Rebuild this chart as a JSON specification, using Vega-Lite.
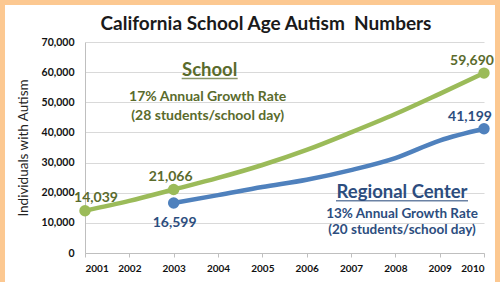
{
  "$schema": "https://vega.github.io/schema/vega-lite/v6.json",
  "width": 399,
  "height": 211,
  "autosize": {"type": "none"},
  "padding": {"left": 85, "top": 42, "right": 16, "bottom": 29},
  "background": "white",
  "config": {"font": "Lato", "view": {"stroke": null}},
  "datasets": {
    "autism": [
      {"year": 2001, "value": 14039, "series": "School"},
      {"year": 2002, "value": 17300, "series": "School"},
      {"year": 2003, "value": 21066, "series": "School"},
      {"year": 2004, "value": 24900, "series": "School"},
      {"year": 2005, "value": 29200, "series": "School"},
      {"year": 2006, "value": 34200, "series": "School"},
      {"year": 2007, "value": 40000, "series": "School"},
      {"year": 2008, "value": 46100, "series": "School"},
      {"year": 2009, "value": 52800, "series": "School"},
      {"year": 2010, "value": 59690, "series": "School"},
      {"year": 2003, "value": 16599, "series": "Regional Center"},
      {"year": 2004, "value": 19200, "series": "Regional Center"},
      {"year": 2005, "value": 21900, "series": "Regional Center"},
      {"year": 2006, "value": 24300, "series": "Regional Center"},
      {"year": 2007, "value": 27500, "series": "Regional Center"},
      {"year": 2008, "value": 31500, "series": "Regional Center"},
      {"year": 2009, "value": 37300, "series": "Regional Center"},
      {"year": 2010, "value": 41199, "series": "Regional Center"}
    ]
  },
  "data": {"name": "autism"},
  "encoding": {
    "x": {"field": "year", "type": "quantitative", "scale": {"domain": [2001, 2010], "nice": false, "zero": false},
      "axis": {"title": null, "values": [2001, 2002, 2003, 2004, 2005, 2006, 2007, 2008, 2009, 2010], "format": "d", "grid": false, "labelFont": "Lato", "labelFontSize": 10, "labelFontWeight": "bold", "labelColor": "#111", "domainColor": "#BFBFBF", "tickColor": "#BFBFBF", "tickSize": 4, "labelPadding": 6}},
    "y": {"field": "value", "type": "quantitative", "scale": {"domain": [0, 70000], "nice": false},
      "axis": {"title": "Individuals with Autism", "values": [0, 10000, 20000, 30000, 40000, 50000, 60000, 70000], "format": ",.0f", "grid": true, "gridColor": "#D9D9D9", "gridWidth": 1, "labelFont": "Lato", "labelFontSize": 10.5, "labelFontWeight": "bold", "labelColor": "#111", "domainColor": "#BFBFBF", "tickSize": 0, "labelPadding": 11, "titleFont": "Lato", "titleFontSize": 13.5, "titleFontWeight": "normal", "titleColor": "#222", "titlePadding": 11}},
    "color": {"field": "series", "type": "nominal", "scale": {"domain": ["School", "Regional Center"], "range": ["#9BBB59", "#4F81BD"]}, "legend": null}
  },
  "layer": [
    {"mark": {"type": "line", "strokeWidth": 4.5, "interpolate": "monotone"}},
    {"transform": [{"filter": "datum.year == 2001 || datum.year == 2003 || datum.year == 2010"}],
     "mark": {"type": "circle", "size": 130, "opacity": 1}},
    {"transform": [{"filter": "datum.series == 'School' && datum.year == 2001"}],
     "mark": {"type": "text", "fontSize": 14, "fontWeight": "bold", "dx": 11, "dy": -13},
     "encoding": {"text": {"field": "value", "format": ","}, "color": {"value": "#5A6B2C"}}},
    {"transform": [{"filter": "datum.series == 'School' && datum.year == 2003"}],
     "mark": {"type": "text", "fontSize": 14, "fontWeight": "bold", "dx": -3, "dy": -13},
     "encoding": {"text": {"field": "value", "format": ","}, "color": {"value": "#5A6B2C"}}},
    {"transform": [{"filter": "datum.series == 'School' && datum.year == 2010"}],
     "mark": {"type": "text", "fontSize": 14, "fontWeight": "bold", "dx": -12, "dy": -12},
     "encoding": {"text": {"field": "value", "format": ","}, "color": {"value": "#5A6B2C"}}},
    {"transform": [{"filter": "datum.series == 'Regional Center' && datum.year == 2003"}],
     "mark": {"type": "text", "fontSize": 14, "fontWeight": "bold", "dx": 1, "dy": 20},
     "encoding": {"text": {"field": "value", "format": ","}, "color": {"value": "#2C4D7E"}}},
    {"transform": [{"filter": "datum.series == 'Regional Center' && datum.year == 2010"}],
     "mark": {"type": "text", "fontSize": 14, "fontWeight": "bold", "dx": -14, "dy": -12},
     "encoding": {"text": {"field": "value", "format": ","}, "color": {"value": "#2C4D7E"}}},
    {"transform": [{"filter": "datum.series == 'School' && datum.year == 2001"}],
     "mark": {"type": "text", "fontSize": 19, "fontWeight": "bold", "baseline": "alphabetic", "align": "center", "dx": 181, "dy": -181},
     "encoding": {"text": {"value": "California School Age Autism\u00a0 Numbers"}, "color": {"value": "#1a1a1a"}}},
    {"transform": [{"filter": "datum.series == 'School' && datum.year == 2003"}],
     "mark": {"type": "text", "fontSize": 18.5, "fontWeight": "bold", "baseline": "middle", "dx": 36, "dy": -120},
     "encoding": {"text": {"value": "School"}, "color": {"value": "#5A6B2C"}}},
    {"transform": [{"filter": "datum.series == 'School' && datum.year == 2003"}],
     "mark": {"type": "tick", "orient": "horizontal", "size": 56, "thickness": 1.5, "xOffset": 36, "yOffset": -111},
     "encoding": {"color": {"value": "#5A6B2C"}}},
    {"transform": [{"filter": "datum.series == 'School' && datum.year == 2003"}],
     "mark": {"type": "text", "fontSize": 14, "fontWeight": "bold", "baseline": "middle", "dx": 34, "dy": -93},
     "encoding": {"text": {"value": "17% Annual Growth Rate"}, "color": {"value": "#5A6B2C"}}},
    {"transform": [{"filter": "datum.series == 'School' && datum.year == 2003"}],
     "mark": {"type": "text", "fontSize": 14, "fontWeight": "bold", "baseline": "middle", "dx": 34, "dy": -74},
     "encoding": {"text": {"value": "(28 students/school day)"}, "color": {"value": "#5A6B2C"}}},
    {"transform": [{"filter": "datum.series == 'Regional Center' && datum.year == 2010"}],
     "mark": {"type": "text", "fontSize": 18.5, "fontWeight": "bold", "baseline": "middle", "dx": -82, "dy": 63},
     "encoding": {"text": {"value": "Regional Center"}, "color": {"value": "#2C4D7E"}}},
    {"transform": [{"filter": "datum.series == 'Regional Center' && datum.year == 2010"}],
     "mark": {"type": "tick", "orient": "horizontal", "size": 132, "thickness": 1.5, "xOffset": -82, "yOffset": 72},
     "encoding": {"color": {"value": "#2C4D7E"}}},
    {"transform": [{"filter": "datum.series == 'Regional Center' && datum.year == 2010"}],
     "mark": {"type": "text", "fontSize": 13.5, "fontWeight": "bold", "baseline": "middle", "dx": -82, "dy": 85.5},
     "encoding": {"text": {"value": "13% Annual Growth Rate"}, "color": {"value": "#2C4D7E"}}},
    {"transform": [{"filter": "datum.series == 'Regional Center' && datum.year == 2010"}],
     "mark": {"type": "text", "fontSize": 13.5, "fontWeight": "bold", "baseline": "middle", "dx": -82, "dy": 101.5},
     "encoding": {"text": {"value": "(20 students/school day)"}, "color": {"value": "#2C4D7E"}}},
    {"mark": {"type": "rect", "filled": false, "strokeWidth": 10, "xOffset": -85, "x2Offset": 16, "yOffset": -73, "y2Offset": 100},
     "encoding": {"x": {"aggregate": "min", "field": "year", "type": "quantitative"}, "x2": {"aggregate": "max", "field": "year"}, "y": {"aggregate": "max", "field": "value", "type": "quantitative"}, "y2": {"aggregate": "min", "field": "value"}, "color": {"value": "#FCC891"}}}
  ]
}
